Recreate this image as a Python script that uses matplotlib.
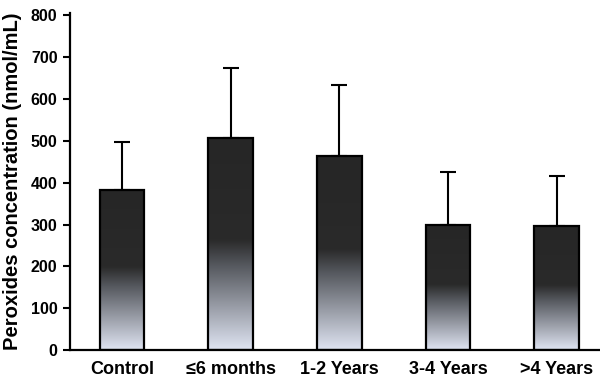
import matplotlib
matplotlib.use("Agg")
import matplotlib.pyplot as plt
import numpy as np
from matplotlib.colors import LinearSegmentedColormap
from matplotlib.patches import Rectangle

# data
groups = ["Control", "≤6 months", "1-2 Years", "3-4 Years", ">4 Years"]
means = [382, 506, 463, 300, 297]
errors = [115, 168, 170, 125, 118]
yticks = [0, 100, 200, 300, 400, 500, 600, 700, 800]

plt.rcParams["font.family"] = ["Liberation Sans", "DejaVu Sans"]
plt.rcParams["font.weight"] = "bold"

fig = plt.figure(figsize=(6, 3.79), dpi=100)
ax = fig.add_axes([0.1167, 0.0765, 0.8833, 0.8893])

# dark on top, fading to pale lavender near the base
cmap = LinearSegmentedColormap.from_list(
    "fade",
    [(0.0, "#dfe4f2"), (0.2, "#9a9ea8"), (0.4, "#55585e"), (0.52, "#2a2a2a"), (1.0, "#262626")],
)
grad = np.linspace(0, 1, 256).reshape(-1, 1)

width = 0.41
x = np.arange(len(groups))
for xi, h, e in zip(x, means, errors):
    x0, x1 = xi - width / 2, xi + width / 2
    ax.imshow(grad, cmap=cmap, origin="lower", aspect="auto",
              extent=(x0, x1, 0, h), zorder=2, interpolation="bilinear")
    ax.add_patch(Rectangle((x0, 0), width, h, fill=False,
                           edgecolor="black", linewidth=1.6, zorder=3))
    ax.errorbar(xi, h, yerr=[[0], [e]], fmt="none", ecolor="black",
                elinewidth=1.5, capsize=5.5, capthick=1.5, zorder=1)

ax.set_xlim(-0.48, 4.4)
ax.set_ylim(0, 806)
ax.set_xticks(x)
ax.set_xticklabels(groups, fontsize=13, fontweight="bold")
ax.tick_params(axis="x", length=0, pad=8)
ax.set_yticks(yticks)
ax.set_yticklabels([str(t) for t in yticks], fontsize=11.5, fontweight="bold")
ax.tick_params(axis="y", direction="out", length=5, width=1.5, pad=4)
ax.set_ylabel("Peroxides concentration (nmol/mL)", fontsize=14.5,
              fontweight="bold", labelpad=6)

for side in ["top", "right"]:
    ax.spines[side].set_visible(False)
ax.spines["left"].set_linewidth(1.6)
ax.spines["bottom"].set_linewidth(1.6)

fig.savefig("out.png", dpi=100, facecolor="white")
